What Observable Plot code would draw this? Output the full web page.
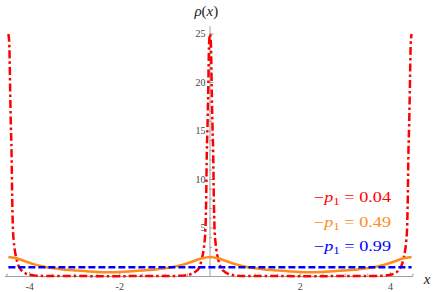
<!DOCTYPE html>
<html><head><meta charset="utf-8">
<script src="https://cdn.jsdelivr.net/npm/d3@7"></script>
<script src="https://cdn.jsdelivr.net/npm/@observablehq/plot@0.6"></script>
</head><body style="margin:0;background:#fff">
<div id="c"></div>
<script>
// ---- data ----
const redX = [-4.47,-4.45,-4.43,-4.415,-4.40,-4.385,-4.37,-4.35,-4.33,-4.30,-4.27,-4.24,-4.20,-4.17,-4.12,-4.07,-3.97,-3.87,-3.67,-3.47,-3.17,-2.77,-2.235,-1.7,-1.3,-1.0,-0.8,-0.6,-0.5,-0.4,-0.35,-0.3,-0.26,-0.23,-0.2,-0.17,-0.14,-0.12,-0.1,-0.085,-0.07,-0.055,-0.04,-0.02,0,0.02,0.04,0.055,0.07,0.085,0.1,0.12,0.14,0.17,0.2,0.23,0.26,0.3,0.35,0.4,0.5,0.6,0.8,1.0,1.3,1.7,2.235,2.77,3.17,3.47,3.67,3.87,3.97,4.07,4.12,4.17,4.20,4.24,4.27,4.30,4.33,4.35,4.37,4.385,4.40,4.415,4.43,4.45,4.47];
const redY = [25,24,19,15.5,12.9,8,5,3.6,2.8,2,1.45,1.05,0.75,0.58,0.4,0.28,0.15,0.09,0.06,0.05,0.045,0.04,0.035,0.04,0.045,0.05,0.06,0.09,0.15,0.28,0.4,0.58,0.75,1.05,1.45,2,2.8,3.6,5,8,12.9,15.5,19,24,25,24,19,15.5,12.9,8,5,3.6,2.8,2,1.45,1.05,0.75,0.58,0.4,0.28,0.15,0.09,0.06,0.05,0.045,0.04,0.035,0.04,0.045,0.05,0.06,0.09,0.15,0.28,0.4,0.58,0.75,1.05,1.45,2,2.8,3.6,5,8,12.9,15.5,19,24,25];
const orangeX = [-4.47,-4.27,-4.07,-3.87,-3.63,-3.47,-3.27,-2.97,-2.67,-2.47,-2.235,-2.0,-1.8,-1.5,-1.2,-1.0,-0.84,-0.6,-0.4,-0.2,0,0.2,0.4,0.6,0.84,1.0,1.2,1.5,1.8,2.0,2.235,2.47,2.67,2.97,3.27,3.47,3.63,3.87,4.07,4.27,4.47];
const orangeY = [2.02,1.85,1.52,1.22,0.96,0.84,0.73,0.62,0.52,0.47,0.45,0.47,0.52,0.62,0.73,0.84,0.96,1.22,1.52,1.85,2.02,1.85,1.52,1.22,0.96,0.84,0.73,0.62,0.52,0.47,0.45,0.47,0.52,0.62,0.73,0.84,0.96,1.22,1.52,1.85,2.02];
const blueX = [-4.47, 4.47];
const blueY = [0.96, 0.96];
const seriesValues = ["0.04", "0.49", "0.99"];
const seriesColors = ["#ff0000", "#ff8c1a", "#0000ff"];
const xMajor = [-4, -2, 2, 4];
const xMajorLabels = ["-4", "-2", "2", "4"];
const xMinor = [-4.5,-3.5,-3,-2.5,-1.5,-1,-0.5,0.5,1,1.5,2.5,3,3.5,4.5];
const yMajor = [5, 10, 15, 20, 25];
const yMajorLabels = ["5", "10", "15", "20", "25"];
const yMinor = [1,2,3,4,6,7,8,9,11,12,13,14,16,17,18,19,21,22,23,24];

const red = redX.map((x,i)=>({x, y: redY[i]}));
const orange = orangeX.map((x,i)=>({x, y: orangeY[i]}));
const blue = blueX.map((x,i)=>({x, y: blueY[i]}));

const serif = "Liberation Serif";
const axisColor = "#a0a0a0";
const labelColor = "#444";

const plot = Plot.plot({
  width: 435, height: 292,
  marginLeft: 5, marginRight: 22, marginTop: 26, marginBottom: 16,
  x: {domain: [-4.534, 4.512], axis: null},
  y: {domain: [0, 25.77], axis: null},
  marks: [
    Plot.ruleY([0], {stroke: axisColor, strokeWidth: 1}),
    Plot.ruleX([0], {stroke: axisColor, strokeWidth: 1}),
    Plot.ruleX(xMajor, {x: d=>d, y1: 0, y2: 0.42, stroke: axisColor}),
    Plot.ruleX(xMinor, {x: d=>d, y1: 0, y2: 0.25, stroke: axisColor}),
    Plot.ruleY(yMajor, {y: d=>d, x1: 0, x2: 0.089, stroke: axisColor}),
    Plot.ruleY(yMinor, {y: d=>d, x1: 0, x2: 0.055, stroke: axisColor}),
    Plot.text(xMajor, {x: d=>d, y: 0, text: (d,i)=>xMajorLabels[i], dy: 10.5, fontFamily: serif, fontSize: 10, fill: labelColor}),
    Plot.text(yMajor, {x: 0, y: d=>d, text: (d,i)=>yMajorLabels[i], dx: -4.5, textAnchor: "end", fontFamily: serif, fontSize: 10, fill: labelColor}),
    Plot.line(red, {x: "x", y: "y", stroke: seriesColors[0], strokeWidth: 2.5, strokeDasharray: "8,3,2.5,3", strokeLinecap: "butt", curve: "monotone-x"}),
    Plot.line(orange, {x: "x", y: "y", stroke: seriesColors[1], strokeWidth: 2.5, strokeLinecap: "butt", curve: "catmull-rom"}),
    Plot.line(blue, {x: "x", y: "y", stroke: seriesColors[2], strokeWidth: 2.5, strokeDasharray: "7,3", strokeLinecap: "butt"})
  ]
});
document.getElementById("c").appendChild(plot);

const svg = d3.select(plot);
const sx = plot.scale("x"), sy = plot.scale("y");

// axis titles
const rho = svg.append("text")
  .attr("x", sx.apply(-0.07)).attr("y", sy.apply(26.8))
  .attr("text-anchor", "middle")
  .attr("font-family", serif).attr("font-size", 15).attr("fill", "#222");
rho.append("tspan").attr("font-style", "italic").text("ρ");
rho.append("tspan").text("(");
rho.append("tspan").attr("font-style", "italic").text("x");
rho.append("tspan").text(")");

svg.append("text")
  .attr("x", sx.apply(4.75)).attr("y", sy.apply(-0.8))
  .attr("text-anchor", "start")
  .attr("font-family", serif).attr("font-size", 15).attr("font-style", "italic").attr("fill", "#222")
  .text("x");

// legend
const legendY = [7.63, 5.10, 2.58];
seriesValues.forEach((v, i) => {
  const t = svg.append("text")
    .attr("x", sx.apply(2.317)).attr("y", sy.apply(legendY[i]))
    .attr("text-anchor", "start")
    .attr("font-family", serif).attr("font-size", 14).attr("fill", seriesColors[i])
    .attr("textLength", 77).attr("lengthAdjust", "spacingAndGlyphs");
  t.append("tspan").text("\u2212");
  t.append("tspan").attr("font-style", "italic").text("p");
  t.append("tspan").attr("font-size", 10).attr("dy", 3).text("1");
  t.append("tspan").attr("dy", -3).text(" = " + v);
});
</script>
</body></html>
